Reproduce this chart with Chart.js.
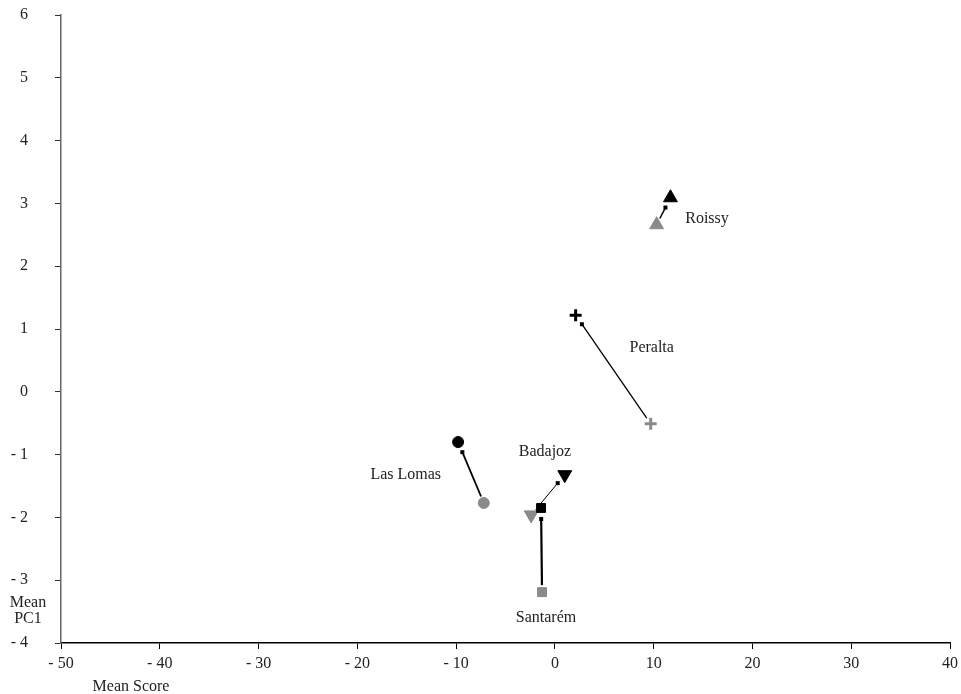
<!DOCTYPE html>
<html>
<head>
<meta charset="utf-8">
<script src="https://cdn.jsdelivr.net/npm/chart.js@4/dist/chart.umd.min.js"></script>
<style>
  html, body { margin: 0; padding: 0; background: #fff; }
  #wrap { width: 961px; height: 694px; }
</style>
</head>
<body>
<div id="wrap"><canvas id="chart" width="961" height="694"></canvas></div>
<script>
// sites, and their two mean positions (black = first, gray = second)
const sites = ['Las Lomas', 'Santarém', 'Badajoz', 'Peralta', 'Roissy'];
const blackX = [-9.8, -1.4, 1.0, 2.1, 11.7];
const blackY = [-0.80, -1.85, -1.32, 1.22, 3.09];
const grayX = [-7.2, -1.3, -2.4, 9.7, 10.3];
const grayY = [-1.77, -3.19, -1.96, -0.51, 2.66];
// where each site name sits, in data units
const labelX = [-15.1, -0.9, -1.0, 9.8, 15.4];
const labelY = [-1.32, -3.60, -0.96, 0.70, 2.75];

const markerStyle = ['circle', 'rect', 'triangle', 'cross', 'triangle'];
const markerRotation = [0, 0, 180, 0, 0];
const markerRadius = [5.5, 6.3, 8, 6, 8];
const arrowWidth = [1.8, 2.2, 1, 1.3, 1.5];

const xTicks = [-50, -40, -30, -20, -10, 0, 10, 20, 30, 40];
const yTicks = [-4, -3, -2, -1, 0, 1, 2, 3, 4, 5, 6];

const SERIF = '"Liberation Serif", "DejaVu Serif", serif';
const FONT_SIZE = 16;

const fmtTick = (v) => (v < 0 ? '- ' + Math.abs(v) : String(v));

const toPoints = (xs, ys) => xs.map((x, i) => ({ x, y: ys[i] }));

const makeSet = (label, xs, ys, color) => ({
  label,
  data: toPoints(xs, ys),
  pointStyle: markerStyle,
  rotation: markerRotation,
  pointRadius: markerRadius,
  pointHoverRadius: markerRadius,
  backgroundColor: color,
  borderColor: color,
  pointBorderWidth: markerStyle.map((s) => (s === 'cross' ? 3 : 1)),
  showLine: false,
});

// arrows from the gray position toward the black one, plus site names and axis titles
const arrowsAndText = {
  id: 'arrowsAndText',
  afterDatasetsDraw(chart) {
    const { ctx, scales: { x, y }, chartArea } = chart;
    ctx.save();
    sites.forEach((name, i) => {
      const x0 = x.getPixelForValue(grayX[i]);
      const y0 = y.getPixelForValue(grayY[i]);
      const x1 = x.getPixelForValue(blackX[i]);
      const y1 = y.getPixelForValue(blackY[i]);
      const len = Math.hypot(x1 - x0, y1 - y0);
      const dx = (x1 - x0) / len;
      const dy = (y1 - y0) / len;
      const sx = x0 + dx * 7;
      const sy = y0 + dy * 7;
      const ex = x1 - dx * 11;
      const ey = y1 - dy * 11;
      ctx.strokeStyle = '#000';
      ctx.lineWidth = arrowWidth[i];
      ctx.beginPath();
      ctx.moveTo(sx, sy);
      ctx.lineTo(ex, ey);
      ctx.stroke();
      ctx.fillStyle = '#000';
      ctx.fillRect(ex - 2, ey - 2, 4, 4);

      ctx.fillStyle = '#222';
      ctx.font = FONT_SIZE + 'px ' + SERIF;
      ctx.textAlign = 'center';
      ctx.textBaseline = 'middle';
      ctx.fillText(name, x.getPixelForValue(labelX[i]), y.getPixelForValue(labelY[i]));
    });

    ctx.fillStyle = '#222';
    ctx.font = FONT_SIZE + 'px ' + SERIF;
    ctx.textAlign = 'center';
    ctx.textBaseline = 'middle';
    ctx.fillText('Mean', 28, chartArea.bottom - 40);
    ctx.fillText('PC1', 28, chartArea.bottom - 24);
    ctx.fillText('Mean Score', 131, chartArea.bottom + 44);
    ctx.restore();
  },
};

new Chart(document.getElementById('chart'), {
  type: 'scatter',
  data: {
    datasets: [
      makeSet('first', blackX, blackY, '#000'),
      makeSet('second', grayX, grayY, '#8a8a8a'),
    ],
  },
  options: {
    responsive: false,
    animation: false,
    layout: { padding: { top: 15, right: 11, left: 0, bottom: 0 } },
    plugins: {
      legend: { display: false },
      tooltip: { enabled: false },
    },
    scales: {
      x: {
        type: 'linear',
        min: -50,
        max: 40,
        afterBuildTicks: (scale) => { scale.ticks = xTicks.map((v) => ({ value: v })); },
        afterFit: (scale) => {
          scale.height = 51;
          scale.paddingLeft = 0;
          scale.paddingRight = 0;
        },
        ticks: {
          callback: fmtTick,
          color: '#222',
          padding: 5,
          maxRotation: 0,
          font: { family: SERIF, size: FONT_SIZE },
        },
        grid: { drawOnChartArea: false, drawTicks: true, tickLength: 6, color: '#000' },
        border: { color: '#000', width: 1.5 },
      },
      y: {
        type: 'linear',
        min: -4,
        max: 6,
        afterBuildTicks: (scale) => { scale.ticks = yTicks.map((v) => ({ value: v })); },
        afterFit: (scale) => {
          scale.width = 61;
          scale.paddingTop = 0;
          scale.paddingBottom = 0;
        },
        ticks: {
          callback: fmtTick,
          color: '#222',
          padding: 27,
          font: { family: SERIF, size: FONT_SIZE },
        },
        grid: { drawOnChartArea: false, drawTicks: true, tickLength: 6, color: '#333' },
        border: { color: '#666', width: 1.5 },
      },
    },
  },
  plugins: [arrowsAndText],
});
</script>
</body>
</html>
